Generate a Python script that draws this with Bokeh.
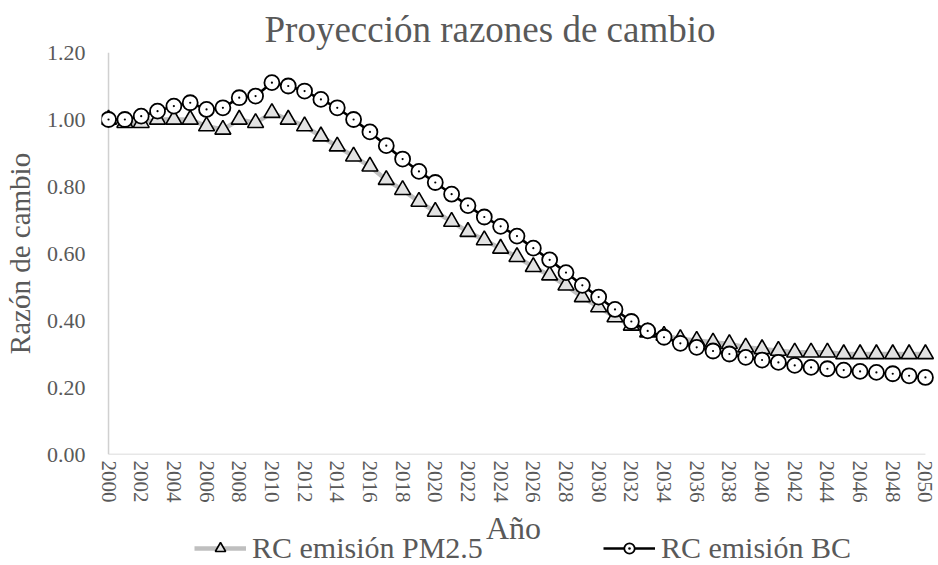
from bokeh.plotting import figure
from bokeh.layouts import column
from bokeh.models import Range1d, FixedTicker, Legend, LegendItem, NumeralTickFormatter, Label
from bokeh.embed import file_html
from bokeh.resources import INLINE

# ---- data ----
years = list(range(2000, 2051))
pm25 = [1.00, 0.99, 0.99, 1.00, 1.00, 1.00, 0.98, 0.97, 1.00, 0.99,
        1.02, 1.00, 0.98, 0.95, 0.92, 0.89, 0.86, 0.82, 0.79, 0.755,
        0.725, 0.695, 0.665, 0.64, 0.615, 0.59, 0.56, 0.535, 0.505, 0.47,
        0.44, 0.41, 0.385, 0.365, 0.355, 0.345, 0.34, 0.335, 0.33, 0.32,
        0.315, 0.31, 0.305, 0.305, 0.305, 0.30, 0.30, 0.30, 0.30, 0.30, 0.30]
bc = [1.00, 1.00, 1.01, 1.025, 1.04, 1.05, 1.03, 1.035, 1.065, 1.07,
      1.11, 1.10, 1.085, 1.06, 1.035, 1.00, 0.963, 0.922, 0.882, 0.845,
      0.812, 0.777, 0.743, 0.709, 0.681, 0.652, 0.616, 0.581, 0.543, 0.505,
      0.47, 0.433, 0.397, 0.369, 0.35, 0.332, 0.32, 0.309, 0.30, 0.29,
      0.282, 0.275, 0.266, 0.26, 0.256, 0.252, 0.248, 0.245, 0.241, 0.235, 0.23]
x_ticks = years[::2]
y_ticks = [0.0, 0.2, 0.4, 0.6, 0.8, 1.0, 1.2]
title_text = "Proyección razones de cambio"
x_title = "Año"
y_title = "Razón de cambio"
labels = ["RC emisión PM2.5", "RC emisión BC"]

FONT = "Liberation Serif"
GRAY = "#595959"
AXIS_GRAY = "#d0d0d0"
PM_LINE = dict(line_color="#bfbfbf", line_width=4.5)
PM_MARK = dict(fill_color="#e2e2e2", line_color="black", line_width=1.6)
BC_LINE = dict(line_color="black", line_width=2.6)
BC_MARK = dict(fill_color="white", line_color="black", line_width=1.8)

p = figure(width=938, height=505, output_backend="svg", toolbar_location=None,
           x_range=Range1d(1999.57, 2050.8), y_range=Range1d(y_ticks[0], y_ticks[-1]),
           min_border_left=100, min_border_right=0, min_border_top=52, min_border_bottom=50)
p.outline_line_color = None
p.grid.visible = False
p.background_fill_color = "white"
p.border_fill_color = "white"

p.title.text = title_text
p.title.text_font = FONT
p.title.text_font_size = "37px"
p.title.text_font_style = "normal"
p.title.text_color = GRAY
p.title.align = "left"
p.title.offset = 163
p.title.standoff = 6

# y axis
ya = p.yaxis[0]
ya.ticker = FixedTicker(ticks=y_ticks)
ya.formatter = NumeralTickFormatter(format="0.00")
ya.axis_line_color = None
ya.major_tick_line_color = None
ya.minor_tick_line_color = None
ya.major_tick_out = 0
ya.major_tick_in = 0
ya.major_label_standoff = 16
ya.major_label_text_font = FONT
ya.major_label_text_font_size = "22px"
ya.major_label_text_color = GRAY
ya.axis_label = y_title
ya.axis_label_text_font = FONT
ya.axis_label_text_font_size = "29px"
ya.axis_label_text_font_style = "normal"
ya.axis_label_text_color = GRAY
ya.axis_label_standoff = 8

# x axis (its title is drawn in the strip below, beside the legend row as in the original)
xa = p.xaxis[0]
xa.ticker = FixedTicker(ticks=x_ticks)
xa.axis_line_color = None
xa.major_tick_line_color = None
xa.minor_tick_line_color = None
xa.major_tick_out = 0
xa.major_tick_in = 0
xa.major_label_orientation = "vertical"
xa.major_label_standoff = 6
xa.major_label_text_font = FONT
xa.major_label_text_font_size = "21px"
xa.major_label_text_color = GRAY

# axis lines (category-style: from first to last year)
p.segment(x0=[years[0]], y0=[y_ticks[0]], x1=[years[-1]], y1=[y_ticks[0]],
          line_color=AXIS_GRAY, line_width=1.5)
p.segment(x0=[years[0]], y0=[y_ticks[0]], x1=[years[0]], y1=[y_ticks[-1]],
          line_color=AXIS_GRAY, line_width=1.5)

# series
p.line(years, pm25, **PM_LINE)
p.scatter(years, pm25, marker="triangle", size=16, **PM_MARK)
p.line(years, bc, **BC_LINE)
p.scatter(years, bc, marker="circle", size=15, **BC_MARK)
p.scatter(years, bc, marker="circle", size=2.2, fill_color="black", line_color=None)

# strip below: x-axis title and legend (same series, styled identically; only legend visible)
q = figure(width=938, height=60, output_backend="svg", toolbar_location=None,
           x_range=Range1d(0, 1), y_range=Range1d(0, 1),
           min_border_left=100, min_border_right=0, min_border_top=0, min_border_bottom=0)
q.axis.visible = False
q.grid.visible = False
q.outline_line_color = None
q.add_layout(Label(x=412, y=38, x_units="screen", y_units="screen", text=x_title,
                   text_font=FONT, text_font_size="32px", text_color=GRAY,
                   text_align="center", text_baseline="middle"))
l1 = q.line(years, pm25, **PM_LINE)
m1 = q.scatter(years, pm25, marker="triangle", **PM_MARK)
l2 = q.line(years, bc, **BC_LINE)
m2 = q.scatter(years, bc, marker="circle_dot", **BC_MARK)

legend = Legend(items=[LegendItem(label=labels[0], renderers=[l1, m1]),
                       LegendItem(label=labels[1], renderers=[l2, m2])],
                orientation="horizontal", location=(93, 0),
                label_text_font=FONT, label_text_font_size="30px",
                label_text_color=GRAY, glyph_width=52, glyph_height=26,
                label_height=26, spacing=120, label_standoff=6,
                padding=0, margin=0, border_line_color=None,
                background_fill_alpha=0)
q.add_layout(legend)

layout = column(p, q, spacing=0)
open("out.html", "w").write(file_html(layout, INLINE))
